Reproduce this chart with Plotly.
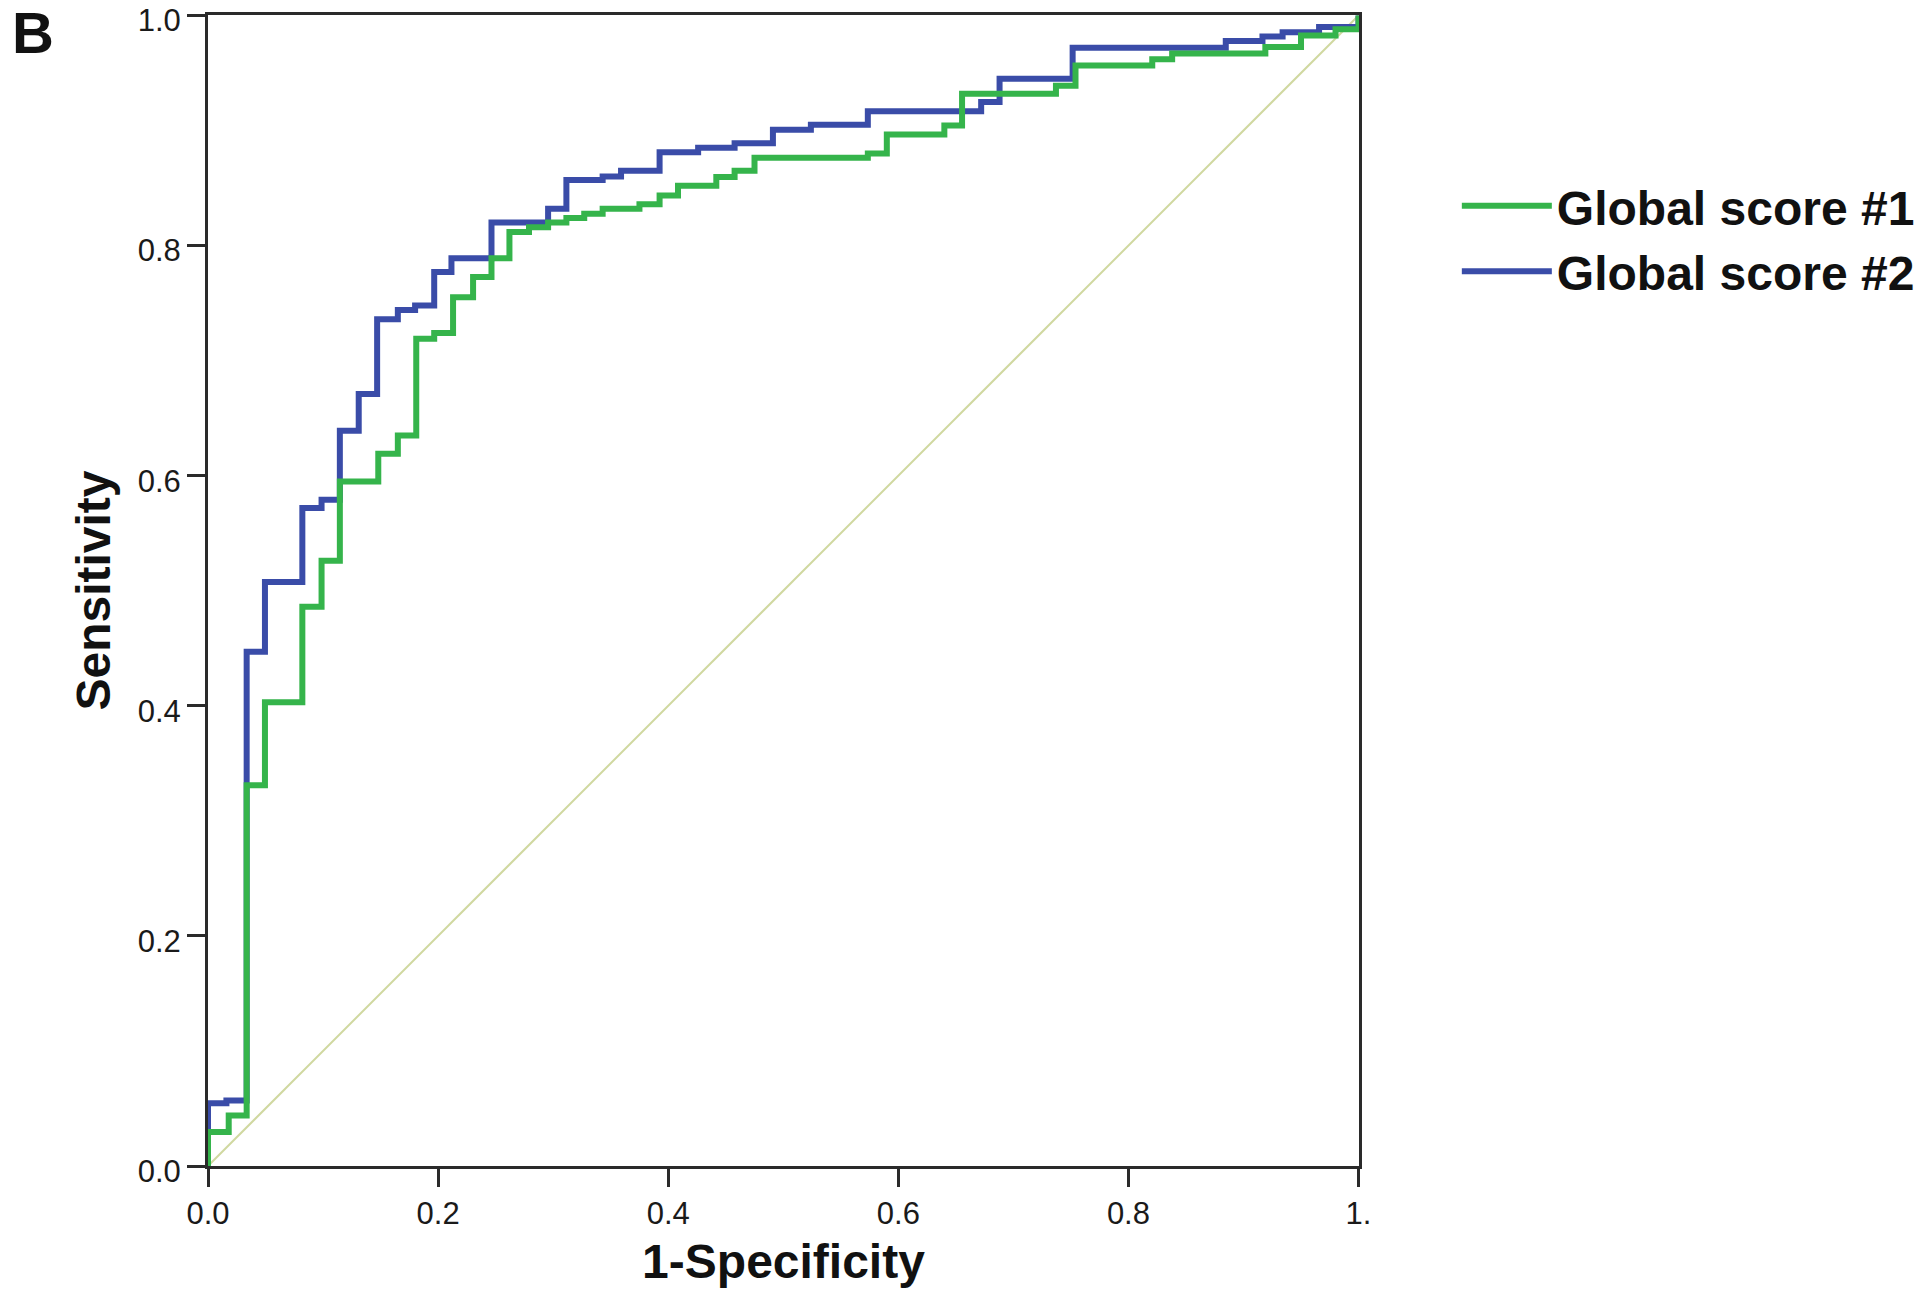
import plotly.graph_objects as go

# ROC curve corner points (1-Specificity, Sensitivity)
score1_fpr = [0, 0, 0.018, 0.0336, 0.0495, 0.082, 0.0987, 0.1146, 0.148, 0.165, 0.181, 0.1966,
              0.213, 0.2304, 0.2464, 0.262, 0.279, 0.2956, 0.3115, 0.327, 0.343, 0.375, 0.3925,
              0.4085, 0.4418, 0.4577, 0.475, 0.5735, 0.590, 0.640, 0.6554, 0.737, 0.754, 0.8207,
              0.838, 0.919, 0.95, 0.980, 1.0]
score1_tpr = [0, 0.0296, 0.044, 0.331, 0.403, 0.486, 0.526, 0.595, 0.619, 0.635, 0.719, 0.724,
              0.755, 0.7726, 0.789, 0.8117, 0.816, 0.820, 0.824, 0.8277, 0.832, 0.836, 0.8436,
              0.852, 0.8595, 0.865, 0.8763, 0.880, 0.8966, 0.9044, 0.932, 0.939, 0.9566, 0.962,
              0.967, 0.9725, 0.9826, 0.988, 1.0]

score2_fpr = [0, 0, 0.016, 0.0336, 0.0495, 0.082, 0.0987, 0.1146, 0.131, 0.147, 0.165, 0.180,
              0.1966, 0.2116, 0.2464, 0.2956, 0.3115, 0.343, 0.359, 0.3925, 0.426, 0.4577, 0.491,
              0.524, 0.5735, 0.672, 0.688, 0.7515, 0.8846, 0.9165, 0.934, 0.9657, 1.0]
score2_tpr = [0, 0.0545, 0.057, 0.447, 0.5075, 0.572, 0.579, 0.639, 0.671, 0.736, 0.744, 0.748,
              0.777, 0.789, 0.820, 0.832, 0.857, 0.860, 0.865, 0.881, 0.885, 0.889, 0.9006,
              0.905, 0.9168, 0.9247, 0.945, 0.972, 0.9777, 0.9818, 0.9855, 0.990, 1.0]

ref_x = [0, 1]
ref_y = [0, 1]

x_tickvals = [0, 0.2, 0.4, 0.6, 0.8, 1.0]
x_ticktext = ["0.0", "0.2", "0.4", "0.6", "0.8", "1."]
y_tickvals = [0, 0.2, 0.4, 0.6, 0.8, 1.0]
y_ticktext = ["0.0", "0.2", "0.4", "0.6", "0.8", "1.0"]

series_names = ["Global score #1", "Global score #2"]
GREEN = "#35b44b"
BLUE = "#3a4ca8"
FONT = "Liberation Sans, Arial, sans-serif"

fig = go.Figure()
fig.add_trace(go.Scatter(x=ref_x, y=ref_y, mode="lines", line=dict(color="#d0d8a0", width=2),
                         showlegend=False, hoverinfo="skip"))
fig.add_trace(go.Scatter(x=score2_fpr, y=score2_tpr, mode="lines", line_shape="hv",
                         line=dict(color=BLUE, width=6), name=series_names[1], legendrank=2))
fig.add_trace(go.Scatter(x=score1_fpr, y=score1_tpr, mode="lines", line_shape="hv",
                         line=dict(color=GREEN, width=6), name=series_names[0], legendrank=1))

axis_common = dict(
    range=[0, 1.0004], showgrid=False, zeroline=False, showline=True, mirror=True,
    linecolor="#2a2a2a", linewidth=3, ticks="outside", ticklen=18, tickwidth=3,
    tickcolor="#2a2a2a", tickfont=dict(family=FONT, size=31, color="#1a1a1a"),
    ticklabeloverflow="allow", automargin=False,
)

fig.update_layout(
    width=1920, height=1292,
    margin=dict(l=208, r=561, t=15, b=126, autoexpand=False),
    paper_bgcolor="white", plot_bgcolor="white",
    font=dict(family=FONT, color="#111"),
    xaxis=dict(**axis_common, tickvals=x_tickvals, ticktext=x_ticktext,
               title=dict(text="<b>1-Specificity</b>", font=dict(family=FONT, size=48, color="#111"),
                          standoff=15)),
    yaxis=dict(**axis_common, tickvals=y_tickvals, ticktext=y_ticktext, ticklabelshift=5,
               title=dict(text="<b>Sensitivity</b>", font=dict(family=FONT, size=48, color="#111"),
                          standoff=12)),
    legend=dict(x=1.085, y=0.867, xanchor="left", yanchor="top",
                font=dict(family=FONT, size=48, color="#111", weight="bold"),
                itemwidth=90, bgcolor="rgba(0,0,0,0)", tracegroupgap=0),
    annotations=[dict(text="<b>B</b>", xref="paper", yref="paper", x=-0.172, y=0.9845,
                      xanchor="left", yanchor="middle", showarrow=False,
                      font=dict(family=FONT, size=58, color="#111"))],
)

# remove the default 8px page margin so the figure sits at the window's top-left corner
fig.write_html("out.html", config={"displayModeBar": False},
               post_script="document.body.style.margin='0';")
